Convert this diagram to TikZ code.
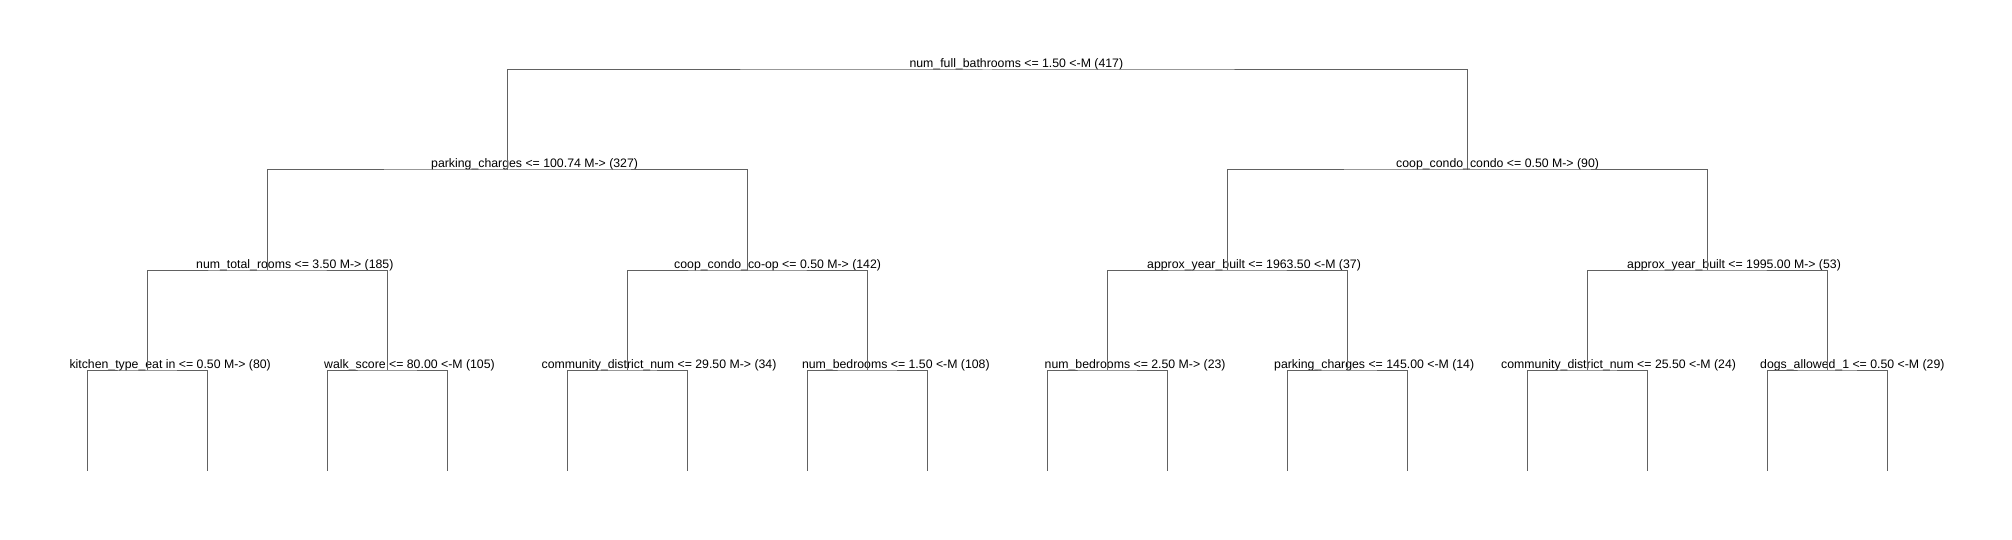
\documentclass[tikz,border=0pt]{standalone}
\usepackage{fontspec}
\setmainfont{Liberation Sans}
\begin{document}
\begin{tikzpicture}[x=1pt,y=-1pt,
  edge/.style={draw=black!62,line width=1pt},
  lbl/.style={anchor=base west,inner sep=0pt,font=\fontsize{12.3}{14}\selectfont,text=black}]
\useasboundingbox (0,0) rectangle (2012,540);
% split points
\coordinate (r) at (987.3,70);
\coordinate (a) at (507.3,170);
\coordinate (b) at (1467.3,170);
\coordinate (aa) at (267.3,270);
\coordinate (ab) at (747.3,270);
\coordinate (ba) at (1227.3,270);
\coordinate (bb) at (1707.3,270);
\foreach \i in {0,...,7} {
  \coordinate (m\i) at ({147.2+240*\i},370);
}
\foreach \i in {0,...,15} {
  \coordinate (l\i) at ({87.2+120*\i},470.5);
}
% labels
\node[lbl] (tr) at (909.3,68) {num\_full\_bathrooms <= 1.50 <-M (417)};
\node[lbl] (ta) at (431,168) {parking\_charges <= 100.74 M-> (327)};
\node[lbl] (tb) at (1396,168) {coop\_condo\_condo <= 0.50 M-> (90)};
\node[lbl] (taa) at (196,268) {num\_total\_rooms <= 3.50 M-> (185)};
\node[lbl] (tab) at (674,268) {coop\_condo\_co-op <= 0.50 M-> (142)};
\node[lbl] (tba) at (1147,268) {approx\_year\_built <= 1963.50 <-M (37)};
\node[lbl] (tbb) at (1627,268) {approx\_year\_built <= 1995.00 M-> (53)};
\node[lbl] (tm0) at (69.3,368) {kitchen\_type\_eat in <= 0.50 M-> (80)};
\node[lbl] (tm1) at (324,368) {walk\_score <= 80.00 <-M (105)};
\node[lbl] (tm2) at (541.4,368) {community\_district\_num <= 29.50 M-> (34)};
\node[lbl] (tm3) at (801.8,368) {num\_bedrooms <= 1.50 <-M (108)};
\node[lbl] (tm4) at (1044.5,368) {num\_bedrooms <= 2.50 M-> (23)};
\node[lbl] (tm5) at (1274,368) {parking\_charges <= 145.00 <-M (14)};
\node[lbl] (tm6) at (1501,368) {community\_district\_num <= 25.50 <-M (24)};
\node[lbl] (tm7) at (1760,368) {dogs\_allowed\_1 <= 0.50 <-M (29)};
% edges
\draw[edge] (a) |- (r) -| (b);
\draw[edge] (aa) |- (a) -| (ab);
\draw[edge] (ba) |- (b) -| (bb);
\draw[edge] (m0) |- (aa) -| (m1);
\draw[edge] (m2) |- (ab) -| (m3);
\draw[edge] (m4) |- (ba) -| (m5);
\draw[edge] (m6) |- (bb) -| (m7);
\draw[edge] (l0) |- (m0) -| (l1);
\draw[edge] (l2) |- (m1) -| (l3);
\draw[edge] (l4) |- (m2) -| (l5);
\draw[edge] (l6) |- (m3) -| (l7);
\draw[edge] (l8) |- (m4) -| (l9);
\draw[edge] (l10) |- (m5) -| (l11);
\draw[edge] (l12) |- (m6) -| (l13);
\draw[edge] (l14) |- (m7) -| (l15);
\end{tikzpicture}
\end{document}
